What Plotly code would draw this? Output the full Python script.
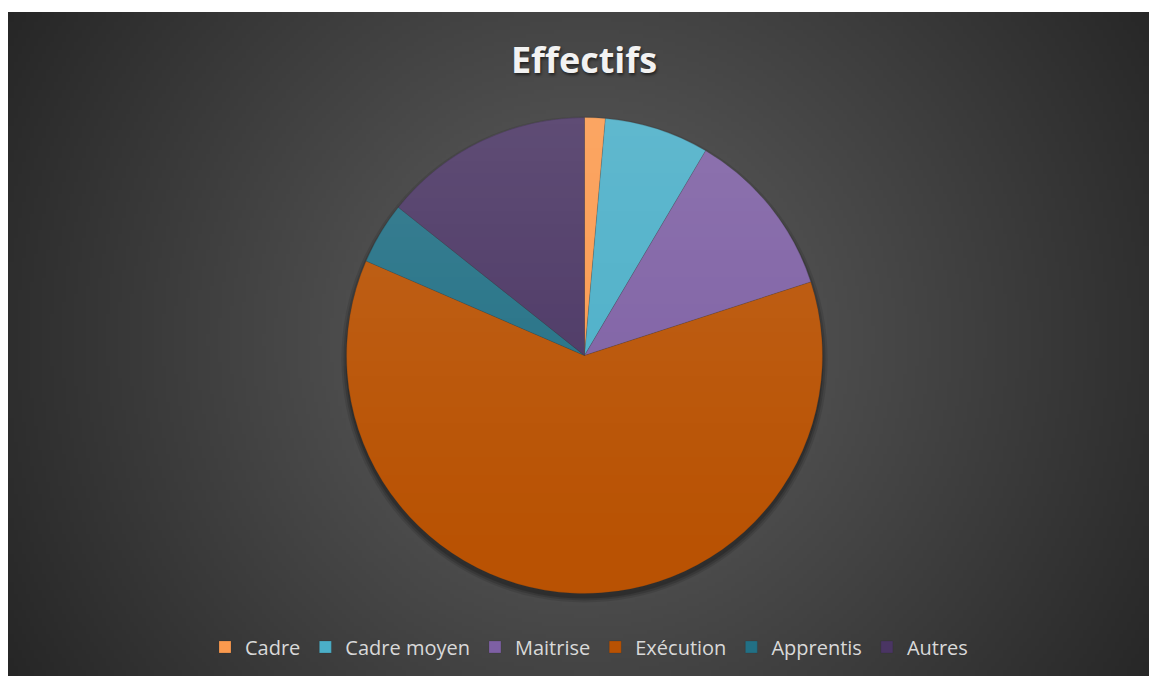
import base64
import struct
import zlib

import numpy as np
import plotly.graph_objects as go

# ---------------- data ----------------
categories = ["Cadre", "Cadre moyen", "Maitrise", "Exécution", "Apprentis", "Autres"]
values = [1.4, 7.1, 11.5, 61.5, 4.2, 14.3]
colors = ["#FB9A4E", "#4BAFC8", "#7E60A4", "#B95203", "#227085", "#4A3563"]
title_text = "Effectifs"

# ---------------- geometry (pixels) ----------------
W, H = 1149, 676
BG_X0, BG_Y0 = 8, 12          # white margin left / top
CX, CY, R = 584.5, 355.5, 238  # pie centre / radius


def png_data_uri(arr):
    """arr: HxW (gray) or HxWx4 (RGBA) uint8 -> data URI"""
    arr = np.ascontiguousarray(arr.astype(np.uint8))
    if arr.ndim == 2:
        h, w = arr.shape
        ctype = 0
    else:
        h, w, _ = arr.shape
        ctype = 6
    raw = b"".join(b"\x00" + arr[i].tobytes() for i in range(h))

    def chunk(tag, data):
        c = struct.pack(">I", len(data)) + tag + data
        return c + struct.pack(">I", zlib.crc32(tag + data) & 0xFFFFFFFF)

    png = b"\x89PNG\r\n\x1a\n"
    png += chunk(b"IHDR", struct.pack(">IIBBBBB", w, h, 8, ctype, 0, 0, 0))
    png += chunk(b"IDAT", zlib.compress(raw, 9))
    png += chunk(b"IEND", b"")
    return "data:image/png;base64," + base64.b64encode(png).decode()


# radial background gradient (low-res, stretched)
bw, bh = W - BG_X0, H - BG_Y0
sc = 4
gx = (np.arange(bw // sc) + 0.5) * sc + BG_X0
gy = (np.arange(bh // sc) + 0.5) * sc + BG_Y0
XX, YY = np.meshgrid(gx, gy)
D = np.hypot(XX - 585, YY - 340)
bg = 80 - 42 * np.clip((D - 200) / 470, 0, 1)
bg_uri = png_data_uri(np.clip(bg, 0, 255))

# light vertical sheen over the pie (top lighter)
N = int(2 * R)
px = np.arange(N) + 0.5
PX, PY = np.meshgrid(px, px)
dist = np.hypot(PX - R, PY - R)
cover = np.clip(R - dist + 0.5, 0, 1)
sheen = 0.12 * np.clip(1 - PY / N, 0, 1) ** 1.3
rgba = np.zeros((N, N, 4))
rgba[..., 0:3] = 255
rgba[..., 3] = 255 * cover * sheen
sheen_uri = png_data_uri(rgba)


def dom(cx, cy, r):
    return dict(x=[(cx - r) / W, (cx + r) / W], y=[(H - cy - r) / H, (H - cy + r) / H])


fig = go.Figure()

# soft drop shadow
for rr, a in [(243, 0.10), (241, 0.14), (239, 0.18)]:
    fig.add_trace(go.Pie(
        values=[1], labels=["shadow"], marker=dict(colors=[f"rgba(0,0,0,{a})"], line=dict(width=0)),
        textinfo="none", hoverinfo="skip", showlegend=False, sort=False,
        domain=dom(CX, CY + 4, rr),
    ))

fig.add_trace(go.Pie(
    labels=categories,
    values=values,
    marker=dict(colors=colors, line=dict(color="rgba(40,40,40,0.35)", width=0.5)),
    textinfo="none",
    sort=False,
    direction="clockwise",
    rotation=0,
    domain=dom(CX, CY, R),
    showlegend=True,
))

fig.update_layout(
    width=W,
    height=H,
    margin=dict(l=0, r=0, t=0, b=0),
    paper_bgcolor="white",
    plot_bgcolor="rgba(0,0,0,0)",
    title=dict(
        text=title_text,
        x=584 / W,
        xanchor="center",
        y=1 - 60 / H,
        yanchor="middle",
        font=dict(family="Open Sans", size=36, color="#F2F2F2", weight="bold",
                  shadow="1px 2px 3px rgba(0,0,0,0.55)"),
    ),
    legend=dict(
        orientation="h",
        x=589 / W,
        xanchor="center",
        y=(H - 647) / H,
        yanchor="middle",
        font=dict(family="Open Sans", size=20, color="#D9D9D9"),
        bgcolor="rgba(0,0,0,0)",
        itemclick=False,
    ),
    images=[
        dict(source=bg_uri, xref="paper", yref="paper", x=BG_X0 / W, y=1 - BG_Y0 / H,
             sizex=bw / W, sizey=bh / H, xanchor="left", yanchor="top",
             sizing="stretch", layer="below"),
        dict(source=sheen_uri, xref="paper", yref="paper", x=(CX - R) / W, y=(H - CY + R) / H,
             sizex=2 * R / W, sizey=2 * R / H, xanchor="left", yanchor="top",
             sizing="stretch", layer="above"),
    ],
)

fig.write_html("out.html")
